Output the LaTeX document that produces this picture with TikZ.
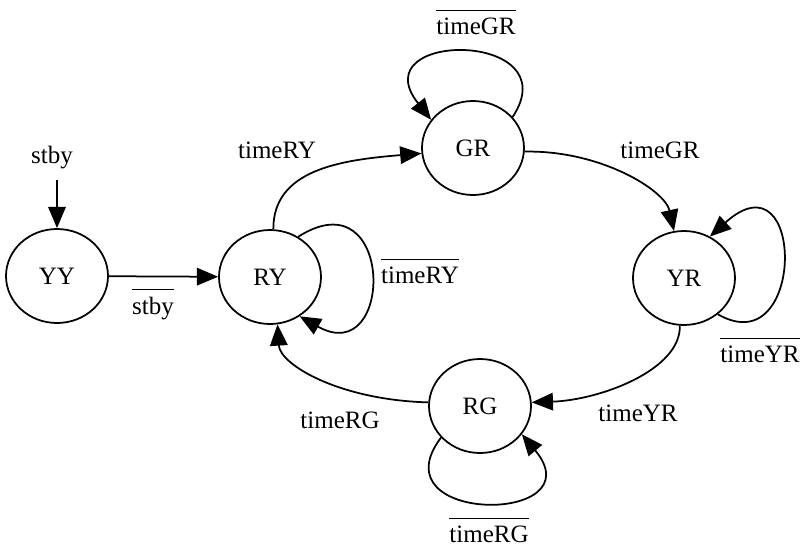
\documentclass[tikz,border=0pt]{standalone}
\usepackage{fontspec}
\setmainfont{Liberation Serif}
\usetikzlibrary{arrows.meta,shapes.geometric}
\tikzset{state/.style = {draw, ellipse, inner sep=0pt, minimum width=40.8pt, minimum height=37.6pt},
  trans/.style = {-{Triangle[length=8.5pt,width=7pt]}},
  cond/.style = {inner sep=0pt}}
\newcommand{\negated}[1]{$\overline{\mbox{\rule{0pt}{8.4pt}#1}}$}
\begin{document}
\begin{tikzpicture}[x=.4pt, y=-.4pt, line width=.7pt, font=\fontsize{10}{12}\selectfont]
      \useasboundingbox (0,0) rectangle (803,547);
      \node[state] (YY) at (57,276) {YY};
      \node[state] (RY) at (270,277) {RY};
      \node[state] (GR) at (473,148) {GR};
      \node[state] (YR) at (684,278) {YR};
      \node[state] (RG) at (480,406) {RG};
      \node[cond] (stby) at (52,158) {stby};
      \coordinate (stbyin) at (57,180);
      \node[cond] (nstby) at (153,304) {\negated{stby}};
      \node[cond] (tRY) at (277,150) {timeRY};
      \node[cond] (ntRY) at (420,271) {\negated{timeRY}};
      \node[cond] (ntGR) at (476,22) {\negated{timeGR}};
      \node[cond] (tGR) at (660,150) {timeGR};
      \node[cond] (ntYR) at (760,350) {\negated{timeYR}};
      \node[cond] (tYR) at (638,413) {timeYR};
      \node[cond] (tRG) at (340,420) {timeRG};
      \node[cond] (ntRG) at (489,530) {\negated{timeRG}};
      \draw[trans] (stbyin) -- (YY);
      \draw[trans] (YY) -- (RY);
      \draw[trans] (RY.86) .. controls (273,170) and (340,160) .. (GR.186);
      \draw[trans] (GR.-4) .. controls (600,150) and (665,190) .. (YR.102);
      \draw[trans] (YR.265) .. controls (681,370) and (600,400) .. (RG.4);
      \draw[trans] (RG.176) .. controls (340,400) and (280,365) .. (RY.-81);
      % self loops
      \draw[trans] (RY.55) .. controls (395,175) and (395,370) .. (RY.-53);
      \draw[trans] (GR.38) .. controls (570,30) and (360,30) .. (GR.146);
      \draw[trans] (YR.-47) .. controls (806,365) and (806,150) .. (YR.58);
      \draw[trans] (RG.219) .. controls (375,525) and (597,525) .. (RG.-34);
\end{tikzpicture}
\end{document}
